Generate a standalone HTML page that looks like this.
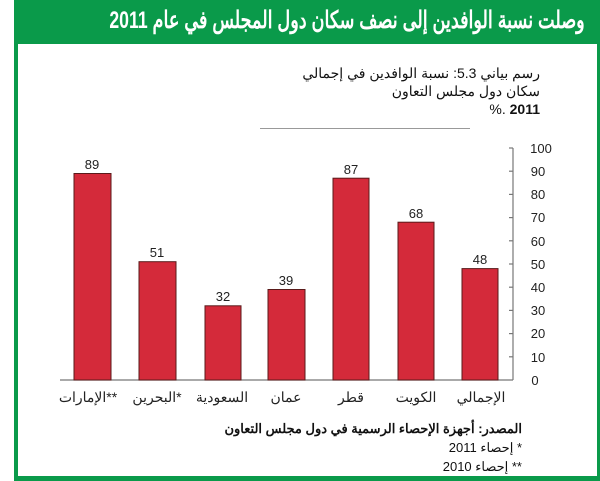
<!DOCTYPE html><html><head><meta charset="utf-8"><style>
body{margin:0;width:600px;height:481px;background:#fff;position:relative;overflow:hidden;font-family:"Liberation Sans","Noto Sans CJK SC",sans-serif}
.a{position:absolute}
</style></head><body>
<div class="a" style="left:14px;top:0;width:586px;height:44px;background:#0a9a4a"></div>
<div class="a" style="left:14px;top:0;width:4px;height:481px;background:#0a9a4a"></div>
<div class="a" style="left:597px;top:0;width:3px;height:481px;background:#0a9a4a"></div>
<div class="a" style="left:14px;top:476px;width:586px;height:5px;background:#0a9a4a"></div>
<div class="a" dir="rtl" style="right:15px;top:6px;color:#fff;font-weight:bold;font-size:24px;white-space:nowrap;transform:scaleX(0.735);transform-origin:right center">وصلت نسبة الوافدين إلى نصف سكان دول المجلس في عام 2011</div>
<div class="a" dir="rtl" style="right:60px;top:64px;font-size:14px;line-height:18px;color:#111;text-align:right">رسم بياني 5.3: نسبة الوافدين في إجمالي<br>سكان دول مجلس التعاون<br><b>2011</b> .%</div>
<div class="a" style="left:260px;top:128px;width:210px;height:1px;background:#999"></div>
<svg class="a" style="left:0;top:0" width="600" height="481">
<g stroke="#777" stroke-width="1.2"><line x1="513" y1="148" x2="513" y2="380"/><line x1="60" y1="380" x2="513" y2="380"/>
<line x1="509" y1="148" x2="513" y2="148"/><line x1="509" y1="171.2" x2="513" y2="171.2"/><line x1="509" y1="194.4" x2="513" y2="194.4"/><line x1="509" y1="217.6" x2="513" y2="217.6"/><line x1="509" y1="240.8" x2="513" y2="240.8"/><line x1="509" y1="264" x2="513" y2="264"/><line x1="509" y1="287.2" x2="513" y2="287.2"/><line x1="509" y1="310.4" x2="513" y2="310.4"/><line x1="509" y1="333.6" x2="513" y2="333.6"/><line x1="509" y1="356.8" x2="513" y2="356.8"/></g>
<g font-size="13" fill="#222" text-anchor="middle">
<text x="541" y="153">100</text><text x="538" y="176">90</text><text x="538" y="199">80</text><text x="538" y="222">70</text><text x="538" y="246">60</text><text x="538" y="269">50</text><text x="538" y="292">40</text><text x="538" y="315">30</text><text x="538" y="338">20</text><text x="538" y="362">10</text><text x="535" y="385">0</text></g>
<g fill="#d42a3a" stroke="#5a1a1a" stroke-width="1">
<rect x="74" y="173.5" width="37" height="206.5"/><rect x="139" y="261.7" width="37" height="118.3"/><rect x="205" y="305.8" width="36" height="74.2"/><rect x="268" y="289.5" width="37" height="90.5"/><rect x="333" y="178.2" width="36" height="201.8"/><rect x="398" y="222.2" width="36" height="157.8"/><rect x="462" y="268.6" width="36" height="111.4"/></g>
<g font-size="13" fill="#222" text-anchor="middle">
<text x="92" y="169">89</text><text x="157" y="257">51</text><text x="223" y="301">32</text><text x="286" y="285">39</text><text x="351" y="174">87</text><text x="416" y="218">68</text><text x="480" y="264">48</text></g>
<g font-size="14" fill="#222" text-anchor="middle">
<text x="88" y="402">الإمارات**</text><text x="157" y="402">البحرين*</text><text x="222" y="402">السعودية</text><text x="286" y="402">عمان</text><text x="351" y="402">قطر</text><text x="416" y="402">الكويت</text><text x="481" y="402">الإجمالي</text></g>
</svg>
<div class="a" dir="rtl" style="right:78px;top:419px;font-size:13px;line-height:19px;color:#111;text-align:right"><b>المصدر: أجهزة الإحصاء الرسمية في دول مجلس التعاون</b><br>* إحصاء 2011<br>** إحصاء 2010</div>
</body></html>
